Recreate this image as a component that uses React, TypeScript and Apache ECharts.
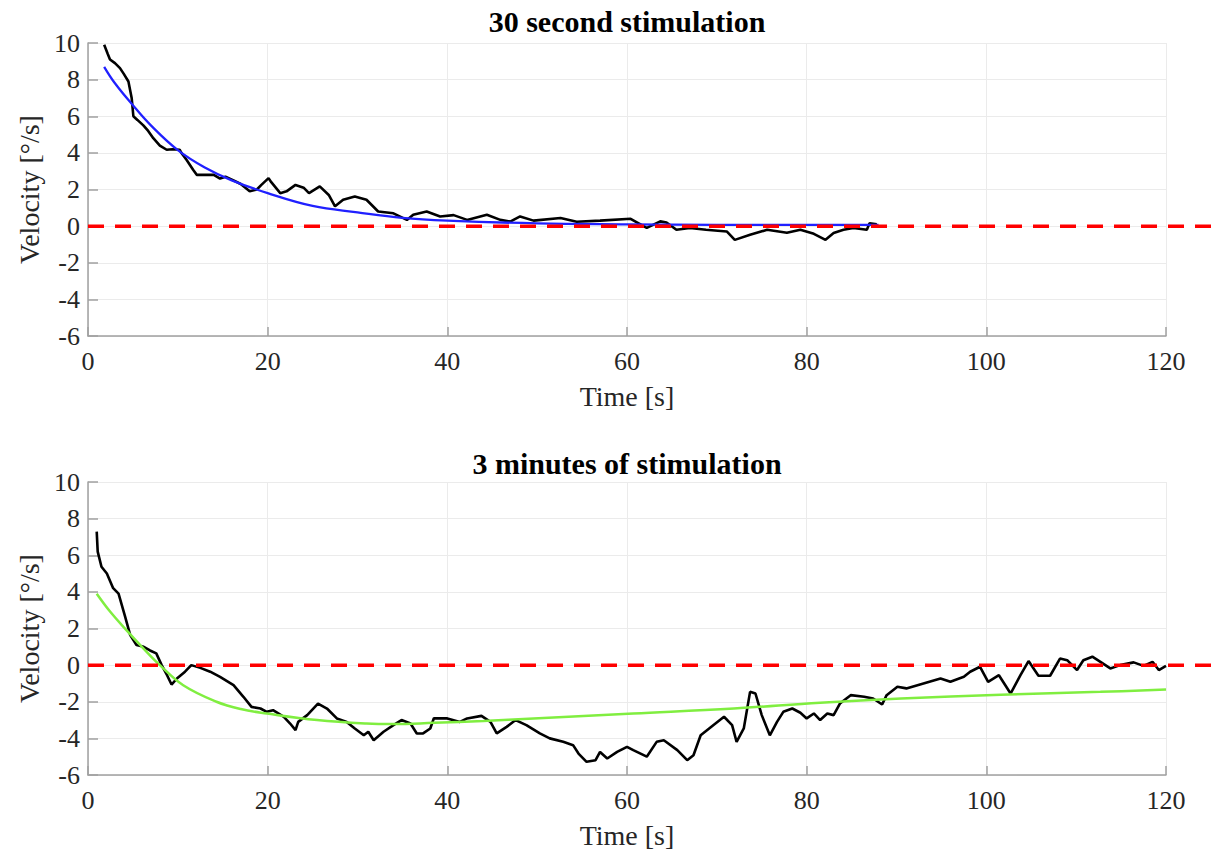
import React, { useEffect, useRef } from 'react';
import * as echarts from 'echarts';

const FONT = 'Liberation Serif';

const titles = ['30 second stimulation', '3 minutes of stimulation'];
const xName = 'Time [s]';
const yName = 'Velocity [°/s]';

// Top panel: measured trace (30 s stimulation)
const topTime = [1.8, 2.2, 2.45, 3.0, 3.56, 4.0, 4.5, 4.86, 5.05, 5.5, 6.16, 6.7, 7.27, 8.0, 8.76, 9.4, 10.2, 10.4, 11.0, 11.7, 12.1, 13.0, 14.0, 14.7, 15.3, 16.2, 17.0, 18.0, 18.8, 19.3, 20.1, 20.4, 21.4, 22.1, 23.1, 24.0, 24.6, 25.8, 26.8, 27.5, 28.4, 29.7, 31.0, 32.3, 34.0, 35.5, 36.2, 37.7, 39.2, 40.7, 42.2, 44.4, 45.9, 47.0, 48.1, 49.6, 52.6, 54.4, 57.0, 60.4, 62.2, 63.7, 64.4, 65.5, 67.0, 68.8, 71.1, 72.0, 73.7, 75.6, 77.8, 79.3, 80.8, 82.1, 83.0, 84.1, 85.2, 86.7, 87.0, 87.8];
const topVel = [9.9, 9.4, 9.1, 8.9, 8.63, 8.3, 7.9, 7.0, 6.0, 5.8, 5.5, 5.2, 4.8, 4.4, 4.17, 4.2, 4.17, 4.0, 3.6, 3.08, 2.8, 2.8, 2.8, 2.6, 2.7, 2.5, 2.3, 1.9, 2.0, 2.25, 2.62, 2.4, 1.8, 1.9, 2.25, 2.1, 1.8, 2.17, 1.7, 1.08, 1.44, 1.62, 1.44, 0.8, 0.7, 0.34, 0.62, 0.8, 0.53, 0.6, 0.34, 0.62, 0.34, 0.25, 0.53, 0.3, 0.44, 0.24, 0.3, 0.4, -0.1, 0.26, 0.2, -0.2, -0.1, -0.2, -0.29, -0.75, -0.47, -0.2, -0.36, -0.2, -0.42, -0.75, -0.38, -0.2, -0.1, -0.2, 0.16, 0.1];

// Top panel: exponential fit (blue)
const topFitTime = [1.8, 3, 5, 7, 10, 13, 16, 20, 25, 30, 35, 40, 50, 60, 70, 88];
const topFitVel = [8.7, 7.8, 6.6, 5.5, 4.15, 3.2, 2.5, 1.8, 1.1, 0.75, 0.45, 0.3, 0.15, 0.1, 0.07, 0.07];

// Bottom panel: measured trace (3 min stimulation)
const botTime = [0.97, 1.08, 1.5, 2.1, 2.8, 3.4, 4.1, 4.7, 5.4, 6.2, 6.9, 7.6, 8.2, 8.8, 9.3, 9.9, 10.8, 11.5, 12.5, 13.6, 14.7, 16.2, 17.3, 18.2, 19.2, 19.9, 20.6, 21.8, 22.5, 23.1, 23.4, 24.4, 25.6, 26.6, 27.7, 28.8, 29.7, 30.7, 31.2, 31.8, 32.9, 34.0, 34.9, 35.9, 36.6, 37.3, 38.1, 38.5, 40.0, 41.4, 42.2, 43.8, 44.8, 45.5, 46.6, 47.6, 48.8, 50.3, 51.4, 52.9, 54.0, 54.6, 55.5, 56.5, 57.0, 57.8, 58.9, 60.0, 60.7, 62.2, 63.3, 64.1, 65.6, 66.7, 67.4, 68.2, 69.6, 70.8, 71.7, 72.2, 73.0, 73.7, 74.3, 75.0, 75.9, 76.7, 77.4, 78.4, 79.3, 80.0, 80.8, 81.5, 82.3, 83.0, 83.7, 84.9, 86.4, 87.4, 88.4, 88.9, 90.1, 91.1, 93.0, 94.9, 96.0, 97.5, 98.2, 99.3, 100.2, 101.4, 102.7, 103.8, 104.7, 105.8, 107.1, 108.2, 109.0, 110.1, 110.8, 111.8, 112.7, 113.8, 114.9, 116.4, 117.5, 118.5, 119.2, 120.0];
const botVel = [7.29, 6.2, 5.37, 5.0, 4.2, 3.9, 2.7, 1.64, 1.1, 1.0, 0.8, 0.64, 0, -0.55, -1.06, -0.73, -0.36, 0, -0.15, -0.36, -0.64, -1.09, -1.73, -2.28, -2.37, -2.55, -2.46, -2.82, -3.19, -3.55, -3.1, -2.73, -2.1, -2.37, -2.91, -3.1, -3.46, -3.83, -3.64, -4.1, -3.64, -3.28, -3.0, -3.19, -3.73, -3.73, -3.46, -2.9, -2.91, -3.1, -2.91, -2.77, -3.1, -3.73, -3.37, -3.0, -3.28, -3.73, -4.0, -4.19, -4.37, -4.83, -5.28, -5.19, -4.74, -5.1, -4.74, -4.46, -4.64, -5.0, -4.19, -4.1, -4.64, -5.19, -4.92, -3.83, -3.28, -2.82, -3.28, -4.19, -3.46, -1.46, -1.55, -2.73, -3.83, -3.1, -2.55, -2.37, -2.6, -2.91, -2.64, -3.0, -2.64, -2.73, -2.1, -1.64, -1.73, -1.82, -2.15, -1.64, -1.18, -1.27, -1.0, -0.73, -0.91, -0.64, -0.36, -0.09, -0.91, -0.55, -1.55, -0.55, 0.22, -0.58, -0.58, 0.36, 0.27, -0.27, 0.27, 0.46, 0.18, -0.18, 0, 0.15, -0.04, 0.18, -0.27, -0.04];

// Bottom panel: fit (green)
const botFitTime = [0.97, 2.5, 4.3, 6, 8, 10.6, 14.3, 17, 19.9, 25.5, 31, 34, 38.5, 44, 49.6, 60.7, 71.9, 81.5, 90.5, 101.6, 112.7, 120];
const botFitVel = [3.9, 2.9, 1.9, 1.0, 0, -1.1, -2.0, -2.4, -2.64, -3.0, -3.19, -3.22, -3.15, -3.05, -2.91, -2.64, -2.37, -2.05, -1.82, -1.62, -1.46, -1.33];

// Zero reference level (dashed red, from the y axis to the right page edge)
const zeroLevel = 0;
const zeroStart = 0;

const zip = (xs: number[], ys: number[]) => xs.map((x, i) => [x, ys[i]]);

const GRAY = '#a0a0a0';
const LABEL = '#262626';

function xAxis(gridIndex: number) {
  return {
    type: 'value',
    gridIndex,
    min: 0,
    max: 120,
    interval: 20,
    name: xName,
    nameLocation: 'middle',
    nameGap: 46,
    nameTextStyle: { fontFamily: FONT, fontSize: 28, color: LABEL },
    axisLine: { show: true, onZero: false, lineStyle: { color: GRAY, width: 1.5 } },
    axisTick: { show: true, inside: true, length: 9, lineStyle: { color: GRAY, width: 1.5 } },
    axisLabel: { fontFamily: FONT, fontSize: 26, color: LABEL, margin: 12 },
    splitLine: { show: true, lineStyle: { color: '#ebebeb', width: 1 } },
  };
}

function yAxis(gridIndex: number) {
  return {
    type: 'value',
    gridIndex,
    min: -6,
    max: 10,
    interval: 2,
    name: yName,
    nameLocation: 'middle',
    nameGap: 44,
    nameTextStyle: { fontFamily: FONT, fontSize: 28, color: LABEL },
    axisLine: { show: true, lineStyle: { color: GRAY, width: 1.5 } },
    axisTick: { show: true, inside: true, length: 10, lineStyle: { color: GRAY, width: 1.5 } },
    axisLabel: { fontFamily: FONT, fontSize: 26, color: LABEL, margin: 8 },
    splitLine: { show: true, lineStyle: { color: '#ebebeb', width: 1 } },
  };
}

function line(data: number[][], idx: number, color: string, width: number, extra: any = {}) {
  return {
    type: 'line',
    xAxisIndex: idx,
    yAxisIndex: idx,
    data,
    showSymbol: false,
    symbol: 'none',
    lineStyle: { color, width },
    ...extra,
  };
}

const option = {
  animation: false,
  backgroundColor: '#ffffff',
  textStyle: { fontFamily: FONT },
  title: [
    {
      text: titles[0],
      left: 627,
      top: 6,
      textAlign: 'center',
      padding: 0,
      textStyle: { fontFamily: FONT, fontSize: 30, fontWeight: 'bold', color: '#000' },
    },
    {
      text: titles[1],
      left: 627,
      top: 448,
      textAlign: 'center',
      padding: 0,
      textStyle: { fontFamily: FONT, fontSize: 30, fontWeight: 'bold', color: '#000' },
    },
  ],
  grid: [
    { left: 88, right: 48, top: 43, height: 293 },
    { left: 88, right: 48, top: 482, height: 293 },
  ],
  xAxis: [xAxis(0), xAxis(1)],
  yAxis: [yAxis(0), yAxis(1)],
  series: [
    line(zip(topTime, topVel), 0, '#000000', 2.6, { z: 2 }),
    line(zip(topFitTime, topFitVel), 0, '#2020ff', 2.3, { smooth: 0.4, z: 3 }),
    line(zip(botTime, botVel), 1, '#000000', 2.6, { z: 2 }),
    line(zip(botFitTime, botFitVel), 1, '#80ee40', 2.5, { smooth: 0.4, z: 3 }),
  ],
};

export default function App() {
  const ref = useRef<HTMLDivElement>(null);
  useEffect(() => {
    document.body.style.margin = '0';
    const chart = echarts.init(ref.current!, null, { renderer: 'svg' });
    chart.setOption(option as any);
    // Zero reference lines: start point from the library's scale, run to the page edge
    const right = chart.getWidth();
    const refLines = [0, 1].map((gi) => {
      const p = chart.convertToPixel({ gridIndex: gi } as any, [zeroStart, zeroLevel]) as number[];
      return {
        type: 'line',
        z: 10,
        shape: { x1: p[0], y1: p[1], x2: right, y2: p[1] },
        style: { stroke: '#ff0000', lineWidth: 3.5, lineDash: [16, 11] },
      };
    });
    chart.setOption({ graphic: refLines } as any);
    return () => chart.dispose();
  }, []);
  return <div ref={ref} style={{ width: 1214, height: 853 }} />;
}
